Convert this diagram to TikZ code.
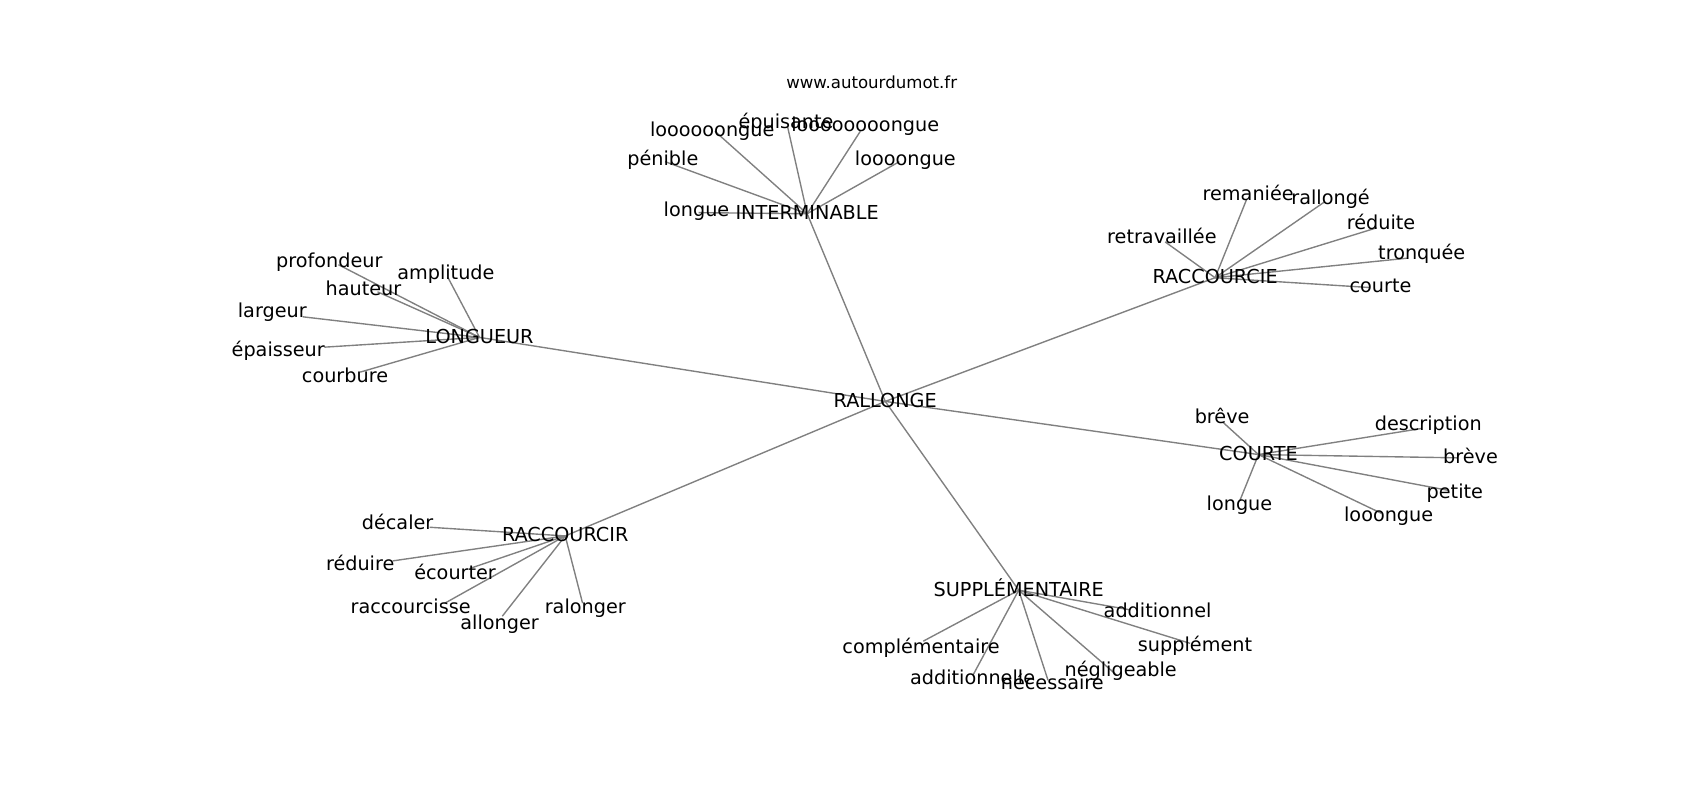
\documentclass[tikz,border=0pt]{standalone}
\usepackage{fontspec}
\setmainfont{DejaVu Sans}
\pgfdeclarelayer{background}
\pgfsetlayers{background,main}

\begin{document}
\begin{tikzpicture}[x=0.2756mm,y=-0.2756mm]
            \tikzstyle{every node}+=[inner sep=0pt]
            \tikzstyle{word}=[text height=0.9em,text depth=0.04em,font=\fontsize{13.9}{16}\selectfont]
            \tikzstyle{edge}=[gray,line width=1pt]
            \useasboundingbox (0,0) rectangle (1567,737);
            \node [font=\fontsize{12}{14}\selectfont,text height=0.9em,text depth=0.04em] (site) at (803.5,76) {www.autourdumot.fr};
            % hubs
            \node [word] (rallonge) at (816,370) {RALLONGE};
            \node [word] (interminable) at (744,197) {INTERMINABLE};
            \node [word] (longueur) at (442,311) {LONGUEUR};
            \node [word] (raccourcie) at (1120,256) {RACCOURCIE};
            \node [word] (courteH) at (1160,419) {COURTE};
            \node [word] (raccourcir) at (521,494) {RACCOURCIR};
            \node [word] (supplementaire) at (939,544) {SUPPLÉMENTAIRE};
            % INTERMINABLE
            \coordinate (v-longueA) at (644,196);
            \node [word] (longueA) at (642,194) {longue};
            \coordinate (v-penible) at (613,149);
            \node [word] (penible) at (611,147) {pénible};
            \coordinate (v-loooooongue) at (659,121);
            \node [word] (loooooongue) at (656.5,120) {loooooongue};
            \coordinate (v-epuisante) at (726,117);
            \node [word] (epuisante) at (724.5,113) {épuisante};
            \coordinate (v-loooooooongue) at (793,121);
            \node [word] (loooooooongue) at (797.5,116) {loooooooongue};
            \coordinate (v-loooongue) at (829,149);
            \node [word] (loooongue) at (834.5,147) {loooongue};
            % LONGUEUR
            \coordinate (v-profondeur) at (312,244);
            \node [word] (profondeur) at (303.5,241) {profondeur};
            \coordinate (v-amplitude) at (413,256);
            \node [word] (amplitude) at (411,252) {amplitude};
            \coordinate (v-hauteur) at (348,269);
            \node [word] (hauteur) at (335,267) {hauteur};
            \coordinate (v-largeur) at (279,292);
            \node [word] (largeur) at (251,287) {largeur};
            \coordinate (v-epaisseur) at (299,320);
            \node [word] (epaisseur) at (256.5,323) {épaisseur};
            \coordinate (v-courbure) at (332,343);
            \node [word] (courbure) at (318,347) {courbure};
            % RACCOURCIE
            \coordinate (v-remaniee) at (1149,184);
            \node [word] (remaniee) at (1150.5,179) {remaniée};
            \coordinate (v-rallongeB) at (1221,186);
            \node [word] (rallongeB) at (1226.5,183) {rallongé};
            \coordinate (v-retravaillee) at (1074,223);
            \node [word] (retravaillee) at (1071,219) {retravaillée};
            \coordinate (v-reduite) at (1269,210);
            \node [word] (reduite) at (1273,206) {réduite};
            \coordinate (v-tronquee) at (1297,238);
            \node [word] (tronquee) at (1310.5,234) {tronquée};
            \coordinate (v-courte) at (1262,265);
            \node [word] (courte) at (1272.5,264) {courte};
            % COURTE
            \coordinate (v-breveA) at (1127,389);
            \node [word] (breveA) at (1126.5,385) {brêve};
            \coordinate (v-description) at (1310,395);
            \node [word] (description) at (1316.5,391) {description};
            \coordinate (v-breveB) at (1343,422);
            \node [word] (breveB) at (1355.5,422) {brève};
            \coordinate (v-petite) at (1335,452);
            \node [word] (petite) at (1341,454) {petite};
            \coordinate (v-longueB) at (1143,461);
            \node [word] (longueB) at (1142.5,465) {longue};
            \coordinate (v-looongue) at (1273,473);
            \node [word] (looongue) at (1280,475) {looongue};
            % RACCOURCIR
            \coordinate (v-decaler) at (396,486);
            \node [word] (decaler) at (366.5,483) {décaler};
            \coordinate (v-reduire) at (362,517);
            \node [word] (reduire) at (332,520) {réduire};
            \coordinate (v-ecourter) at (433,524);
            \node [word] (ecourter) at (419.5,529) {écourter};
            \coordinate (v-raccourcisse) at (410,556);
            \node [word] (raccourcisse) at (378.5,560) {raccourcisse};
            \coordinate (v-allonger) at (463,568);
            \node [word] (allonger) at (460.5,575) {allonger};
            \coordinate (v-ralonger) at (537,556);
            \node [word] (ralonger) at (539.5,560) {ralonger};
            % SUPPLEMENTAIRE
            \coordinate (v-additionnel) at (1041,562);
            \node [word] (additionnel) at (1067,564) {additionnel};
            \coordinate (v-supplement) at (1097,593);
            \node [word] (supplement) at (1101.5,595) {supplément};
            \coordinate (v-complementaire) at (851,591);
            \node [word] (complementaire) at (849,597) {complémentaire};
            \coordinate (v-negligeable) at (1029,622);
            \node [word] (negligeable) at (1033,618) {négligeable};
            \coordinate (v-additionnelle) at (897,622);
            \node [word] (additionnelle) at (896.5,625) {additionnelle};
            \coordinate (v-necessaire) at (966,627);
            \node [word] (necessaire) at (970,630) {nécessaire};
            % edges, under the words
            \begin{pgfonlayer}{background}
            \draw [edge] (rallonge.center) -- (interminable.center);
            \draw [edge] (rallonge.center) -- (longueur.center);
            \draw [edge] (rallonge.center) -- (raccourcie.center);
            \draw [edge] (rallonge.center) -- (courteH.center);
            \draw [edge] (rallonge.center) -- (raccourcir.center);
            \draw [edge] (rallonge.center) -- (supplementaire.center);
            \draw [edge] (interminable.center) -- (v-longueA);
            \draw [edge] (interminable.center) -- (v-penible);
            \draw [edge] (interminable.center) -- (v-loooooongue);
            \draw [edge] (interminable.center) -- (v-epuisante);
            \draw [edge] (interminable.center) -- (v-loooooooongue);
            \draw [edge] (interminable.center) -- (v-loooongue);
            \draw [edge] (longueur.center) -- (v-profondeur);
            \draw [edge] (longueur.center) -- (v-amplitude);
            \draw [edge] (longueur.center) -- (v-hauteur);
            \draw [edge] (longueur.center) -- (v-largeur);
            \draw [edge] (longueur.center) -- (v-epaisseur);
            \draw [edge] (longueur.center) -- (v-courbure);
            \draw [edge] (raccourcie.center) -- (v-remaniee);
            \draw [edge] (raccourcie.center) -- (v-rallongeB);
            \draw [edge] (raccourcie.center) -- (v-retravaillee);
            \draw [edge] (raccourcie.center) -- (v-reduite);
            \draw [edge] (raccourcie.center) -- (v-tronquee);
            \draw [edge] (raccourcie.center) -- (v-courte);
            \draw [edge] (courteH.center) -- (v-breveA);
            \draw [edge] (courteH.center) -- (v-description);
            \draw [edge] (courteH.center) -- (v-breveB);
            \draw [edge] (courteH.center) -- (v-petite);
            \draw [edge] (courteH.center) -- (v-longueB);
            \draw [edge] (courteH.center) -- (v-looongue);
            \draw [edge] (raccourcir.center) -- (v-decaler);
            \draw [edge] (raccourcir.center) -- (v-reduire);
            \draw [edge] (raccourcir.center) -- (v-ecourter);
            \draw [edge] (raccourcir.center) -- (v-raccourcisse);
            \draw [edge] (raccourcir.center) -- (v-allonger);
            \draw [edge] (raccourcir.center) -- (v-ralonger);
            \draw [edge] (supplementaire.center) -- (v-additionnel);
            \draw [edge] (supplementaire.center) -- (v-supplement);
            \draw [edge] (supplementaire.center) -- (v-complementaire);
            \draw [edge] (supplementaire.center) -- (v-negligeable);
            \draw [edge] (supplementaire.center) -- (v-additionnelle);
            \draw [edge] (supplementaire.center) -- (v-necessaire);
            \end{pgfonlayer}
        \end{tikzpicture}
\end{document}
